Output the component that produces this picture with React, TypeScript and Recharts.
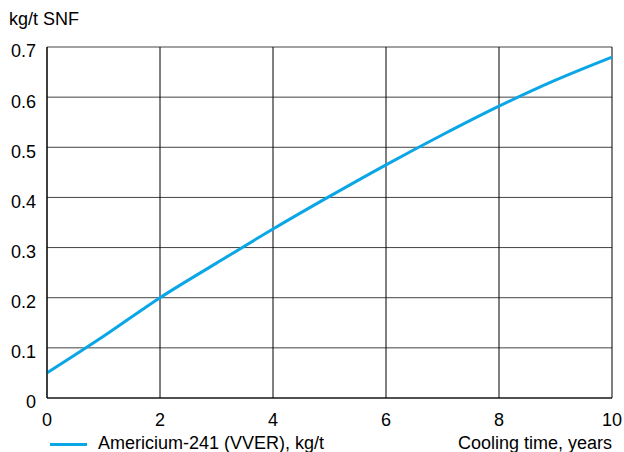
import React from 'react';
import { LineChart, Line, XAxis, YAxis, CartesianGrid, Legend } from 'recharts';

const years = [0, 1, 2, 3, 4, 5, 6, 7, 8, 9, 10];
const americium = [0.05, 0.123, 0.2, 0.269, 0.337, 0.402, 0.465, 0.525, 0.582, 0.634, 0.68];
const xTicks = [0, 2, 4, 6, 8, 10];
const yTicks = [0, 0.1, 0.2, 0.3, 0.4, 0.5, 0.6, 0.7];

const data = years.map((t, i) => ({ t, am: americium[i] }));

const FONT = 'Liberation Sans, Arial, sans-serif';
const FS = 18;
const LINE_COLOR = '#0ba6e6';

const LegendRow = () => (
  <div style={{ position: 'relative', height: 20, fontFamily: FONT, fontSize: FS, color: '#000' }}>
    <span style={{ position: 'absolute', left: 50, top: 11, width: 37, height: 3, background: LINE_COLOR }} />
    <span style={{ position: 'absolute', left: 98, top: 1, lineHeight: '20px' }}>Americium-241 (VVER), kg/t</span>
    <span style={{ position: 'absolute', right: 0, top: 1, lineHeight: '20px' }}>Cooling time, years</span>
  </div>
);

export default function App() {
  return (
    <div style={{ position: 'absolute', left: 0, top: 0, background: '#fff' }}>
      <LineChart width={624} height={452} data={data} margin={{ top: 47, right: 12, left: 0, bottom: 0 }}>
        <CartesianGrid vertical={false} stroke="#444" strokeWidth={1} />
        <CartesianGrid horizontal={false} stroke="#000" strokeWidth={1} />
        <XAxis
          dataKey="t"
          type="number"
          domain={[0, 10]}
          ticks={xTicks}
          height={34}
          tickSize={0}
          tickMargin={15}
          axisLine={{ stroke: '#000' }}
          tick={{ fill: '#000', fontSize: FS, fontFamily: FONT }}
        />
        <YAxis
          type="number"
          domain={[0, 0.7]}
          ticks={yTicks}
          width={47}
          tickSize={0}
          tickMargin={11}
          axisLine={{ stroke: '#000' }}
          tick={{ fill: '#000', fontSize: FS, fontFamily: FONT, dy: 4 }}
          label={{
            content: () => (
              <text x={9} y={25} fill="#000" fontSize={FS} fontFamily={FONT}>kg/t SNF</text>
            ),
          }}
        />
        <Legend verticalAlign="bottom" height={20} content={() => <LegendRow />} />
        <Line
          type="monotone"
          dataKey="am"
          stroke={LINE_COLOR}
          strokeWidth={3}
          dot={false}
          isAnimationActive={false}
        />
      </LineChart>
    </div>
  );
}
